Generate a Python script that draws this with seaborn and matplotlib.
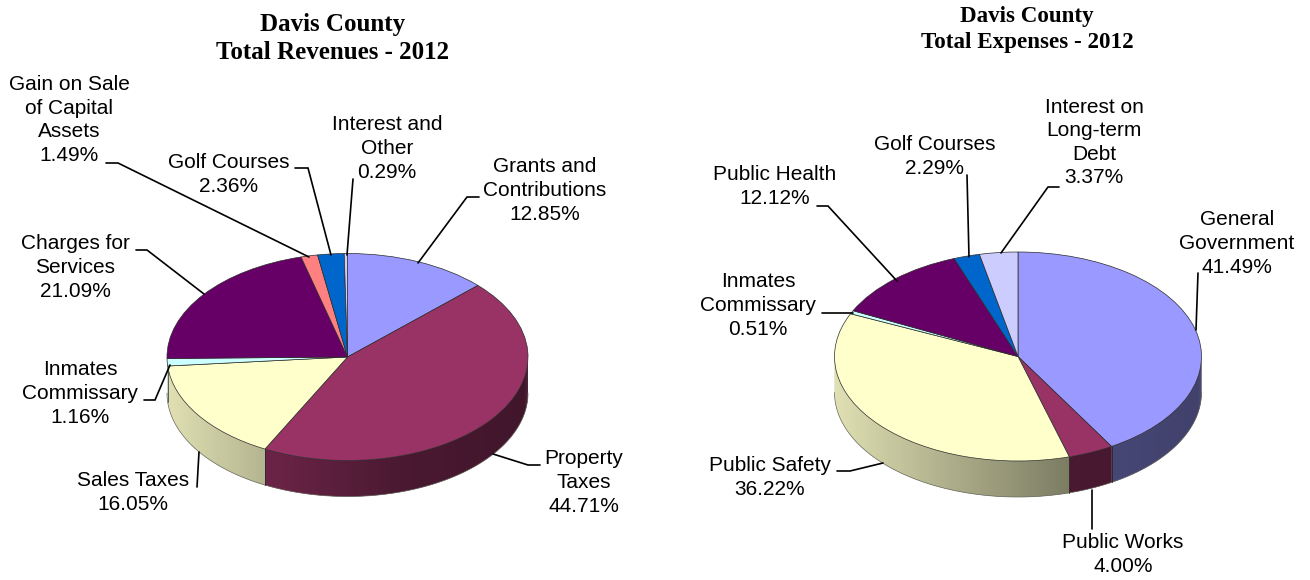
import numpy as np
import matplotlib
matplotlib.use("Agg")
import matplotlib.pyplot as plt
import seaborn as sns
from matplotlib.colors import to_rgb

sns.set_theme(style="white")
plt.rcParams["font.family"] = ["Liberation Sans", "DejaVu Sans"]

W, H = 1310, 580

rev_names = ["Grants and\nContributions", "Property\nTaxes", "Sales Taxes", "Inmates\nCommissary",
             "Charges for\nServices", "Gain on Sale\nof Capital\nAssets", "Golf Courses", "Interest and\nOther"]
rev_values = [12.85, 44.71, 16.05, 1.16, 21.09, 1.49, 2.36, 0.29]
rev_colors = ["#9999FF", "#993366", "#FFFFCC", "#CCFFFF", "#660066", "#FF8080", "#0066CC", "#CCCCFF"]

exp_names = ["General\nGovernment", "Public Works", "Public Safety", "Inmates\nCommissary",
             "Public Health", "Golf Courses", "Interest on\nLong-term\nDebt"]
exp_values = [41.49, 4.00, 36.22, 0.51, 12.12, 2.29, 3.37]
exp_colors = ["#9999FF", "#993366", "#FFFFCC", "#CCFFFF", "#660066", "#0066CC", "#CCCCFF"]

# label anchor (centre x, centre y of the text block) in figure pixels
rev_label_xy = [(545, 190.5), (584, 482.5), (133, 492.5), (80, 393.5), (75, 267.5), (69, 120), (229, 174.5), (387, 148.5)]
exp_label_xy = [(1237, 243.5), (1123, 554.5), (770, 477.5), (758, 305.5), (775, 186.5), (935, 156.5), (1094, 142.5)]

# leader polylines in figure pixels
rev_leaders = [[(479, 197), (467, 197), (418, 263)],
               [(540, 465), (528, 465), (493, 454)],
               [(197, 487), (199, 452)],
               [(144, 400), (155, 400), (170, 365)],
               [(136, 250), (147, 250), (204, 294)],
               [(106, 163), (118, 163), (309, 257)],
               [(295, 168), (308, 168), (331, 255)],
               [(353, 179), (347, 255)]]
exp_leaders = [[(1198, 273), (1196, 330)],
               [(1092, 490), (1092, 529)],
               [(837, 471), (850, 471), (883, 463)],
               [(822, 313), (853, 313)],
               [(817, 206), (828, 206), (897, 281)],
               [(967, 175), (969, 257)],
               [(1059, 187), (1048, 187), (1001, 253)]]


def side_shade(u):
    """Brightness of the rim as a function of horizontal position on the disc."""
    return np.interp(u, [-1, -0.5, 0.3, 1], [0.88, 0.72, 0.48, 0.42])


def draw_pie(values, colors, cx, cy, rx, ry, depth):
    ax = fig.add_axes([(cx - rx) / W, 1 - (cy + ry) / H, 2 * rx / W, 2 * ry / H])
    wedges, _ = ax.pie(values, colors=colors, startangle=90, counterclock=False, radius=1,
                       wedgeprops=dict(edgecolor="#2a2a2a", linewidth=0.5))
    ax.set_aspect("auto")
    ax.set_xlim(-1, 1)
    ax.set_ylim(-1, 1)
    ax.axis("off")
    for w in wedges:
        w.set_clip_on(False)
        w.set_zorder(5)
    d = depth / ry
    for w, col in zip(wedges, colors):
        # clockwise slices run from 90 down to -270 degrees; the rim faces the viewer on -180..0
        lo, hi = max(w.theta1, -180), min(w.theta2, 0)
        if hi <= lo:
            continue
        steps = np.linspace(lo, hi, max(int((hi - lo) / 1.0), 2) + 1)
        rgb = np.array(to_rgb(col))
        xs, ys = np.cos(np.radians(steps)), np.sin(np.radians(steps))
        # each strip overlaps the next one so no seams show between them
        for i in range(len(steps) - 1):
            j = min(i + 2, len(steps) - 1)
            um = (xs[i] + xs[i + 1]) / 2
            seg_x = xs[i:j + 1]
            seg_y = ys[i:j + 1]
            ax.fill(np.r_[seg_x, seg_x[::-1]], np.r_[seg_y, seg_y[::-1] - d],
                    facecolor=rgb * side_shade(um), edgecolor="none", clip_on=False, zorder=2)
        ax.plot(xs, ys - d, color="#6a6a60", lw=0.5, clip_on=False, zorder=3)
        # slice boundaries on the rim; skipped at the disc's silhouette and on slivers
        if hi - lo > 8:
            for k, ang in ((0, lo), (-1, hi)):
                if -179 < ang < -1:
                    ax.plot([xs[k], xs[k]], [ys[k], ys[k] - d], color="#2a2a2a", lw=0.5,
                            clip_on=False, zorder=3)
    return ax


fig = plt.figure(figsize=(W / 100, H / 100), dpi=100, facecolor="white")

draw_pie(rev_values, rev_colors, 347.5, 357, 180.5, 103.5, 36)
draw_pie(exp_values, exp_colors, 1018, 356.5, 183.5, 104.5, 36)

# overlay in pixel coordinates for titles, labels and leader lines
ov = fig.add_axes([0, 0, 1, 1], zorder=10)
ov.set_xlim(0, W)
ov.set_ylim(H, 0)
ov.axis("off")
ov.patch.set_alpha(0)

for (title_x, title_y, size, title) in [(333, 38.5, 18.0, "Davis County\nTotal Revenues - 2012"),
                                        (1027, 29.5, 16.6, "Davis County\nTotal Expenses - 2012")]:
    ov.text(title_x, title_y, title, ha="center", va="center", family=["Liberation Serif"],
            weight="bold", fontsize=size, color="black", linespacing=1.33)

for names, values, xy, leaders in [(rev_names, rev_values, rev_label_xy, rev_leaders),
                                   (exp_names, exp_values, exp_label_xy, exp_leaders)]:
    for name, v, (x, y), path in zip(names, values, xy, leaders):
        ov.text(x, y, f"{name}\n{v:.2f}%", ha="center", va="center", fontsize=15,
                color="black", linespacing=1.31)
        px, py = zip(*path)
        ov.plot(px, py, color="black", lw=1.2, solid_joinstyle="miter")

fig.savefig("out.png", dpi=100)
